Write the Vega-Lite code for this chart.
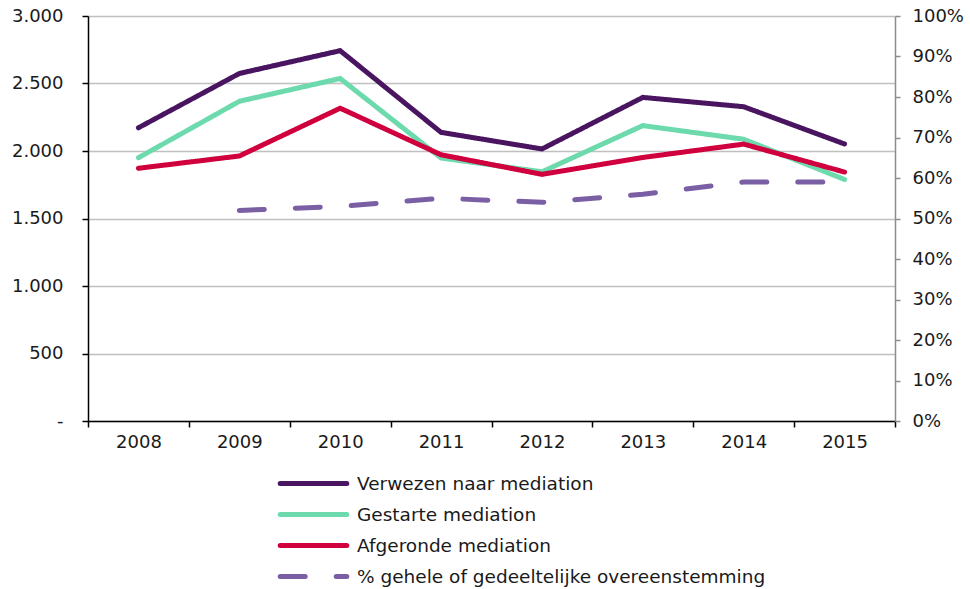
{
  "$schema": "https://vega.github.io/schema/vega-lite/v6.json",
  "width": 807,
  "height": 405,
  "autosize": {"type": "none"},
  "padding": {"left": 88, "top": 16, "right": 75, "bottom": 168},
  "background": "white",
  "config": {
    "view": {"stroke": null},
    "font": "DejaVu Sans",
    "axis": {"labelFont": "DejaVu Sans", "labelFontSize": 18, "labelColor": "#1a1a1a", "title": null},
    "legend": {"labelFont": "DejaVu Sans", "labelFontSize": 18.5, "labelColor": "#1a1a1a", "padding": 0}
  },
  "data": {
    "values": [
      {"year": "2008", "series": "Verwezen naar mediation", "value": 2172},
      {"year": "2009", "series": "Verwezen naar mediation", "value": 2574},
      {"year": "2010", "series": "Verwezen naar mediation", "value": 2743},
      {"year": "2011", "series": "Verwezen naar mediation", "value": 2138},
      {"year": "2012", "series": "Verwezen naar mediation", "value": 2015},
      {"year": "2013", "series": "Verwezen naar mediation", "value": 2397},
      {"year": "2014", "series": "Verwezen naar mediation", "value": 2328},
      {"year": "2015", "series": "Verwezen naar mediation", "value": 2052},
      {"year": "2008", "series": "Gestarte mediation", "value": 1950},
      {"year": "2009", "series": "Gestarte mediation", "value": 2368},
      {"year": "2010", "series": "Gestarte mediation", "value": 2537},
      {"year": "2011", "series": "Gestarte mediation", "value": 1948},
      {"year": "2012", "series": "Gestarte mediation", "value": 1846},
      {"year": "2013", "series": "Gestarte mediation", "value": 2188},
      {"year": "2014", "series": "Gestarte mediation", "value": 2087},
      {"year": "2015", "series": "Gestarte mediation", "value": 1789},
      {"year": "2008", "series": "Afgeronde mediation", "value": 1872},
      {"year": "2009", "series": "Afgeronde mediation", "value": 1963},
      {"year": "2010", "series": "Afgeronde mediation", "value": 2317},
      {"year": "2011", "series": "Afgeronde mediation", "value": 1972},
      {"year": "2012", "series": "Afgeronde mediation", "value": 1827},
      {"year": "2013", "series": "Afgeronde mediation", "value": 1952},
      {"year": "2014", "series": "Afgeronde mediation", "value": 2051},
      {"year": "2015", "series": "Afgeronde mediation", "value": 1844},
      {"year": "2009", "series": "% gehele of gedeeltelijke overeenstemming", "value": 0.52},
      {"year": "2010", "series": "% gehele of gedeeltelijke overeenstemming", "value": 0.53},
      {"year": "2011", "series": "% gehele of gedeeltelijke overeenstemming", "value": 0.55},
      {"year": "2012", "series": "% gehele of gedeeltelijke overeenstemming", "value": 0.54},
      {"year": "2013", "series": "% gehele of gedeeltelijke overeenstemming", "value": 0.56},
      {"year": "2014", "series": "% gehele of gedeeltelijke overeenstemming", "value": 0.59},
      {"year": "2015", "series": "% gehele of gedeeltelijke overeenstemming", "value": 0.59}
    ]
  },
  "encoding": {
    "x": {
      "field": "year",
      "type": "ordinal",
      "bandPosition": 0.5,
      "scale": {"type": "band", "paddingInner": 0, "paddingOuter": 0},
      "axis": {
        "labelAngle": 0,
        "tickBand": "extent",
        "domainColor": "#000000",
        "domainWidth": 1.5,
        "tickColor": "#000000",
        "tickWidth": 1.5,
        "tickSize": 6,
        "labelPadding": 6,
        "grid": false
      }
    },
    "color": {
      "field": "series",
      "type": "nominal",
      "scale": {
        "domain": ["Verwezen naar mediation", "Gestarte mediation", "Afgeronde mediation", "% gehele of gedeeltelijke overeenstemming"],
        "range": ["#4a1560", "#6ddaae", "#d0003f", "#7b5fa5"]
      },
      "legend": {
        "title": null,
        "orient": "none",
        "legendX": 214,
        "legendY": 456,
        "symbolType": "M-3.7,0H3.7",
        "symbolSize": 324,
        "symbolStrokeWidth": 5,
        "symbolFillColor": "transparent",
        "labelOffset": 32,
        "rowPadding": 9,
        "labelLimit": 600,
        "encode": {
          "symbols": {
            "update": {
              "strokeCap": {"value": "round"}
            }
          }
        }
      }
    },
    "strokeDash": {
      "field": "series",
      "type": "nominal",
      "scale": {
        "domain": ["Verwezen naar mediation", "Gestarte mediation", "Afgeronde mediation", "% gehele of gedeeltelijke overeenstemming"],
        "range": [[1, 0], [1, 0], [1, 0], [25, 31]]
      },
      "legend": null
    }
  },
  "layer": [
    {
      "transform": [{"filter": "datum.series != '% gehele of gedeeltelijke overeenstemming'"}],
      "mark": {"type": "line", "strokeWidth": 5, "strokeCap": "round"},
      "encoding": {
        "y": {
          "field": "value",
          "type": "quantitative",
          "scale": {"domain": [0, 3000], "nice": false},
          "axis": {
            "values": [0, 500, 1000, 1500, 2000, 2500, 3000],
            "labelExpr": "datum.value == 0 ? '-' : replace(format(datum.value, ','), ',', '.')",
            "domainColor": "#000000",
            "domainWidth": 1.5,
            "tickColor": "#000000",
            "tickWidth": 1.5,
            "tickSize": 6,
            "labelPadding": 19,
            "grid": true,
            "gridColor": "#c0c0c0",
            "gridWidth": 1.5
          }
        }
      }
    },
    {
      "transform": [{"filter": "datum.series == '% gehele of gedeeltelijke overeenstemming'"}],
      "mark": {"type": "line", "strokeWidth": 5, "strokeCap": "round"},
      "encoding": {
        "y": {
          "field": "value",
          "type": "quantitative",
          "scale": {"domain": [0, 1], "nice": false},
          "axis": {
            "orient": "right",
            "values": [0, 0.1, 0.2, 0.3, 0.4, 0.5, 0.6, 0.7, 0.8, 0.9, 1],
            "format": ".0%",
            "domainColor": "#8c8c8c",
            "domainWidth": 1.5,
            "tickColor": "#8c8c8c",
            "tickWidth": 1.5,
            "tickSize": 5,
            "labelPadding": 12,
            "grid": false
          }
        }
      }
    }
  ],
  "resolve": {"scale": {"y": "independent"}}
}
